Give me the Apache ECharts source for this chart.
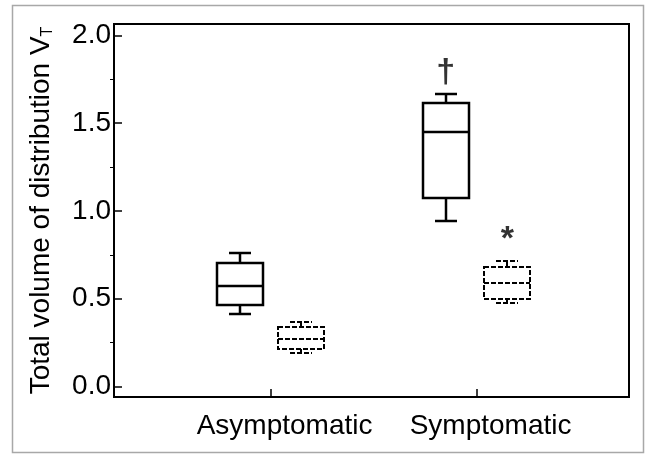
<!DOCTYPE html>
<html lang="en">
<head>
  <meta charset="UTF-8">
  <title>Total volume of distribution</title>
  <script src="https://cdn.jsdelivr.net/npm/echarts@6/dist/echarts.min.js"></script>
  <style>
    html, body { margin: 0; padding: 0; background: #fff; }
  </style>
</head>
<body>
<div id="main" style="width: 648px;height:458px;"></div>
<script>
  // groups on the x axis
  var categories = ['Asymptomatic', 'Symptomatic'];
  // [low whisker, q1, median, q3, high whisker] per group
  var solidBoxes = [
    [0.412, 0.464, 0.572, 0.702, 0.759],
    [0.945, 1.072, 1.452, 1.614, 1.667]
  ];
  var dashedBoxes = [
    [0.188, 0.214, 0.272, 0.337, 0.368],
    [0.473, 0.496, 0.591, 0.682, 0.716]
  ];
  var yTicks = [0, 0.5, 1.0, 1.5, 2.0];
  var yMinorTicks = [0.25, 0.75, 1.25, 1.75];
  // significance marks: [text, x, y]
  var marks = [
    ['\u2020', 1.85, 1.79],
    ['*', 2.15, 0.835]
  ];

  var FONT = 'Liberation Sans, Arial, sans-serif';
  var myChart = echarts.init(document.getElementById('main'));

  function boxData(rows, shift) {
    return rows.map(function (r, i) {
      return [i + 1 + shift].concat(r);
    });
  }

  function makeRender(dashed) {
    return function (params, api) {
      var x = api.value(0);
      var ys = [1, 2, 3, 4, 5].map(function (d) {
        return Math.round(api.coord([x, api.value(d)])[1]);
      });
      var lo = ys[0], q1 = ys[1], med = ys[2], q3 = ys[3], hi = ys[4];
      var cx = Math.round(api.coord([x, 0])[0]);
      var hw = 23, cw = 11;
      var style = {
        stroke: '#000',
        fill: null,
        lineWidth: dashed ? 2 : 2.5,
        lineDash: dashed ? [5, 2] : null
      };
      function line(x1, y1, x2, y2) {
        return { type: 'line', shape: { x1: x1, y1: y1, x2: x2, y2: y2 }, style: style };
      }
      return {
        type: 'group',
        children: [
          line(cx, hi, cx, q3),
          line(cx - cw, hi, cx + cw, hi),
          line(cx, q1, cx, lo),
          line(cx - cw, lo, cx + cw, lo),
          { type: 'rect', shape: { x: cx - hw, y: q3, width: hw * 2, height: q1 - q3 }, style: style },
          line(cx - hw, med, cx + hw, med)
        ]
      };
    };
  }

  var option = {
    backgroundColor: '#fff',
    animation: false,
    textStyle: { fontFamily: FONT, color: '#000' },
    graphic: [{
      type: 'rect',
      shape: { x: 12.5, y: 5.5, width: 631, height: 447 },
      style: { fill: null, stroke: '#a8a8a8', lineWidth: 1.5 },
      silent: true
    }],
    grid: {
      left: 114,
      right: 19,
      top: 24,
      bottom: 61,
      show: true,
      borderColor: '#000',
      borderWidth: 2
    },
    xAxis: {
      type: 'value',
      min: 0.24,
      max: 2.74,
      splitLine: { show: false },
      axisLine: { show: true, onZero: false, lineStyle: { color: '#000', width: 2 } },
      axisTick: { show: true, inside: true, length: 8, customValues: [1, 2], lineStyle: { color: '#000', width: 1.5 } },
      axisLabel: {
        customValues: [1, 2],
        formatter: function (v) { return categories[Math.round(v) - 1]; },
        color: '#000',
        fontFamily: FONT,
        fontSize: 28,
        margin: 15,
        padding: [0, 0, 0, 28]
      }
    },
    yAxis: [{
      type: 'value',
      min: -0.06,
      max: 2.065,
      name: '{a|Total volume of distribution V}{s|T}',
      nameLocation: 'middle',
      nameRotate: 90,
      nameGap: 58,
      nameTextStyle: {
        rich: {
          a: { fontSize: 28, fontFamily: FONT, color: '#000' },
          s: { fontSize: 16, fontFamily: FONT, color: '#000', padding: [14, 0, 0, 0] }
        }
      },
      splitLine: { show: false },
      axisLine: { show: true, onZero: false, lineStyle: { color: '#000', width: 2 } },
      axisTick: { show: true, inside: true, length: 8, customValues: yTicks, lineStyle: { color: '#000', width: 1.5 } },
      axisLabel: {
        customValues: yTicks,
        formatter: function (v) { return v.toFixed(1); },
        color: '#000',
        fontFamily: FONT,
        fontSize: 28,
        margin: 3
      }
    }, {
      type: 'value',
      position: 'left',
      min: -0.06,
      max: 2.065,
      splitLine: { show: false },
      axisLine: { show: false, onZero: false },
      axisLabel: { show: false },
      axisTick: { show: true, inside: false, length: 4, customValues: yMinorTicks, lineStyle: { color: '#000', width: 1 } }
    }],
    series: [{
      name: 'solid',
      type: 'custom',
      renderItem: makeRender(false),
      data: boxData(solidBoxes, -0.15),
      z: 3
    }, {
      name: 'dashed',
      type: 'custom',
      renderItem: makeRender(true),
      data: boxData(dashedBoxes, 0.15),
      z: 3
    }, {
      name: 'marks',
      type: 'scatter',
      symbolSize: 0,
      data: marks.map(function (m) { return { value: [m[1], m[2]], name: m[0] }; }),
      label: {
        show: true,
        position: 'inside',
        formatter: function (p) { return p.name; },
        color: '#000',
        fontFamily: FONT,
        fontWeight: 'bold',
        fontSize: 34
      }
    }]
  };

  myChart.setOption(option);
</script>
</body>
</html>
